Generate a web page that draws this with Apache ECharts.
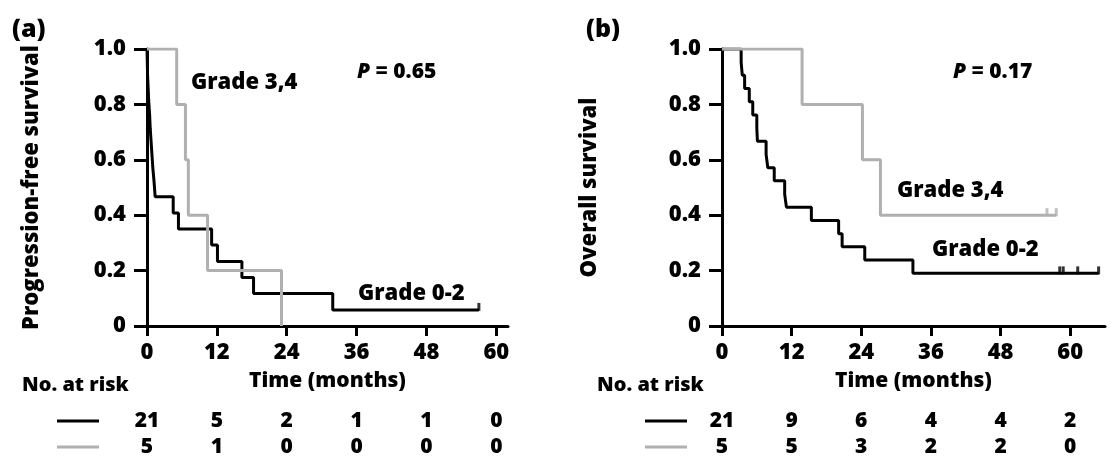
<!DOCTYPE html>
<html>
<head>
<meta charset="utf-8">
<script src="https://cdn.jsdelivr.net/npm/echarts@6/dist/echarts.min.js"></script>
<style>
html, body { margin: 0; padding: 0; background: #fff; }
#container { width: 1116px; height: 457px; }
</style>
</head>
<body>
<div id="container"></div>
<script>
// 时间刻度 (months)
var timeTicks = [0, 12, 24, 36, 48, 60];

// (a) progression-free survival
var pfsLowT = [0, 0.05, 0.1, 0.2, 0.3, 0.45, 0.55, 0.7, 0.85, 1.0, 1.2, 1.4, 4.5, 5.4, 11.1, 12.1, 16.3, 18.3, 31.9, 57];
var pfsLowS = [1, 0.952, 0.905, 0.857, 0.81, 0.762, 0.714, 0.667, 0.619, 0.571, 0.524, 0.467, 0.408, 0.35, 0.292, 0.233, 0.175, 0.117, 0.058, 0.058];
var pfsLowCensor = [57];
var pfsHighT = [0, 5.1, 6.6, 7.1, 10.4, 23.1];
var pfsHighS = [1, 0.8, 0.6, 0.4, 0.2, 0];
var pfsRiskLow = [21, 5, 2, 1, 1, 0];
var pfsRiskHigh = [5, 1, 0, 0, 0, 0];

// (b) overall survival
var osLowT = [0, 3.3, 3.5, 3.9, 4.7, 5.3, 6.0, 6.1, 7.6, 7.9, 9.0, 10.8, 11.1, 15.4, 20.1, 20.7, 24.6, 32.9, 64.9];
var osLowS = [1, 0.952, 0.905, 0.857, 0.81, 0.762, 0.714, 0.667, 0.619, 0.571, 0.524, 0.476, 0.429, 0.381, 0.333, 0.286, 0.238, 0.19, 0.19];
var osLowCensor = [58.2, 58.8, 61.3, 64.9];
var osHighT = [0, 13.8, 24.2, 27.3, 57.6];
var osHighS = [1, 0.8, 0.6, 0.4, 0.4];
var osHighCensor = [56.0, 57.6];
var osRiskLow = [21, 9, 6, 4, 4, 2];
var osRiskHigh = [5, 5, 3, 2, 2, 0];

var FONT = '"Open Sans"';
var WEIGHT = 800;
var BLACK = '#000';
var GREY = '#b0b0b0';

function pairs(t, s) {
	return t.map(function(x, i) { return [x, s[i]]; });
}
function censorPts(t, v) {
	return t.map(function(x) { return [x, v]; });
}

function xAxisOf(idx, max) {
	return {
		type: 'value', gridIndex: idx, min: 0, max: max, interval: 12,
		axisLine: { show: true, lineStyle: { color: BLACK, width: 3 } },
		axisTick: { show: true, length: 10, lineStyle: { color: BLACK, width: 3 } },
		axisLabel: { color: BLACK, fontFamily: FONT, fontWeight: WEIGHT, fontSize: 22, margin: 16,
			showMaxLabel: false },
		splitLine: { show: false },
		name: 'Time (months)', nameLocation: 'middle', nameGap: 45,
		nameTextStyle: { color: BLACK, fontFamily: FONT, fontWeight: WEIGHT, fontSize: 21 }
	};
}
function yAxisOf(idx, name, gap) {
	return {
		type: 'value', gridIndex: idx, min: 0, max: 1, interval: 0.2,
		axisLine: { show: true, lineStyle: { color: BLACK, width: 3 } },
		axisTick: { show: true, length: 13, lineStyle: { color: BLACK, width: 3 } },
		axisLabel: { color: BLACK, fontFamily: FONT, fontWeight: WEIGHT, fontSize: 22, margin: 21,
			formatter: function(v) { return v === 0 ? '0' : v.toFixed(1); } },
		splitLine: { show: false },
		name: name, nameLocation: 'middle', nameGap: gap, nameRotate: 90,
		nameTextStyle: { color: BLACK, fontFamily: FONT, fontWeight: WEIGHT, fontSize: 22 }
	};
}
function kmLine(idx, data, color, z) {
	return { type: 'line', xAxisIndex: idx, yAxisIndex: idx, step: 'end', symbol: 'none',
		data: data, z: z, lineStyle: { color: color, width: 3 }, silent: true };
}
function censor(idx, data, color, z) {
	return { type: 'scatter', xAxisIndex: idx, yAxisIndex: idx, data: data, z: z,
		symbol: 'rect', symbolSize: [3, 8], symbolOffset: [0, -3],
		itemStyle: { color: color }, silent: true };
}

var myChart = echarts.init(document.getElementById('container'));
var option = {
	animation: false,
	backgroundColor: '#fff',
	grid: [
		{ left: 147, top: 49, width: 361, height: 277 },
		{ left: 722, top: 49, width: 383, height: 277 }
	],
	xAxis: [xAxisOf(0, 62), xAxisOf(1, 66)],
	yAxis: [yAxisOf(0, 'Progression-free survival', 104), yAxisOf(1, 'Overall survival', 121)],
	series: [
		kmLine(0, pairs(pfsLowT, pfsLowS), BLACK, 3),
		kmLine(0, pairs(pfsHighT, pfsHighS), GREY, 4),
		censor(0, censorPts(pfsLowCensor, 0.058), BLACK, 3),
		kmLine(1, pairs(osLowT, osLowS), BLACK, 3),
		kmLine(1, pairs(osHighT, osHighS), GREY, 4),
		censor(1, censorPts(osLowCensor, 0.19), BLACK, 3),
		censor(1, censorPts(osHighCensor, 0.4), GREY, 4)
	]
};
myChart.setOption(option);

// 文字与风险表
var txt = { fill: BLACK, fontFamily: FONT, fontWeight: WEIGHT };
function text(x, y, s, size, align, extra) {
	var st = Object.assign({}, txt, { text: s, fontSize: size, align: align || 'left', verticalAlign: 'middle' }, extra || {});
	return { type: 'text', x: x, y: y, style: st, z: 10 };
}
function pText(x, y, s) {
	return { type: 'text', x: x, y: y, z: 10, style: { text: '{i|P} = ' + s, fill: BLACK, fontFamily: FONT,
		fontWeight: WEIGHT, fontSize: 21, verticalAlign: 'middle',
		rich: { i: { fontStyle: 'italic', fontWeight: WEIGHT, fontFamily: FONT, fontSize: 21 } } } };
}
var g = [];
g.push(text(12, 30, '(a)', 25));
g.push(text(586, 30, '(b)', 25));
g.push(text(191, 83, 'Grade 3,4', 22));
g.push(text(358, 294, 'Grade 0-2', 22));
g.push(text(897, 191, 'Grade 3,4', 22));
g.push(text(932, 250, 'Grade 0-2', 22));
g.push(pText(357, 72, '0.65'));
g.push(pText(953, 72, '0.17'));

function riskTable(idx, left, lineX, low, high) {
	g.push(text(left, 385, 'No. at risk', 20));
	g.push({ type: 'line', shape: { x1: lineX, y1: 421, x2: lineX + 42, y2: 421 }, style: { stroke: BLACK, lineWidth: 3 } });
	g.push({ type: 'line', shape: { x1: lineX, y1: 447, x2: lineX + 42, y2: 447 }, style: { stroke: GREY, lineWidth: 3 } });
	timeTicks.forEach(function(t, i) {
		var px = myChart.convertToPixel({ xAxisIndex: idx }, t);
		g.push(text(px, 421, String(low[i]), 21, 'center'));
		g.push(text(px, 447, String(high[i]), 21, 'center'));
	});
}
riskTable(0, 22, 57, pfsRiskLow, pfsRiskHigh);
riskTable(1, 597, 645, osRiskLow, osRiskHigh);

myChart.setOption({ graphic: g });
</script>
</body>
</html>
